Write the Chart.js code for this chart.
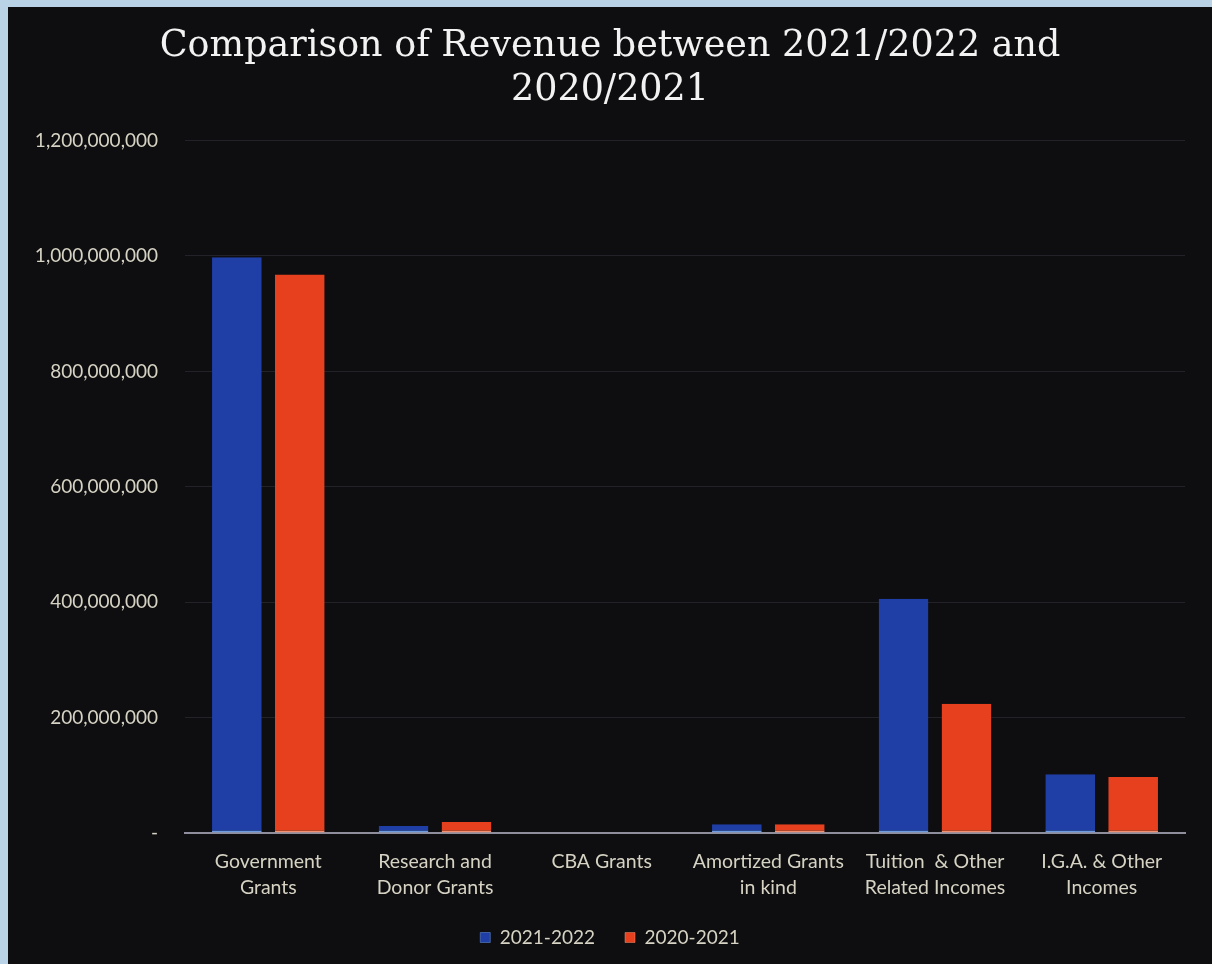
<!DOCTYPE html>
<html>
<head>
<meta charset="utf-8">
<title>Revenue comparison</title>
<script src="https://cdn.jsdelivr.net/npm/chart.js@4"></script>
<style>
  html, body { margin: 0; padding: 0; }
  body { background: #b9d2e6; width: 1212px; height: 964px; overflow: hidden; }
  #wrap { position: absolute; left: 8px; top: 7px; width: 1204px; height: 957px; background: #0e0e10; }
  canvas { display: block; }
</style>
</head>
<body>
<div id="wrap"><canvas id="graficoIngresos" width="1204" height="957"></canvas></div>
<script>
// categorías y valores de ingresos
const categorias = [
  ['Government', 'Grants'],
  ['Research and', 'Donor Grants'],
  'CBA Grants',
  ['Amortized Grants', 'in kind'],
  ['Tuition  & Other', 'Related Incomes'],
  ['I.G.A. & Other', 'Incomes']
];
const ingresos2122 = [998000000, 12000000, 0, 15000000, 406000000, 102000000];
const ingresos2021 = [968000000, 19000000, 0, 15000000, 224000000, 97000000];
const tituloLineas = ['Comparison of Revenue between 2021/2022 and', '2020/2021'];

const colorAzul = '#1f3ea6';
const colorRojo = '#e6401f';
const colorTexto = '#d6d3c4';

const canvas = document.getElementById('graficoIngresos');
new Chart(canvas.getContext('2d'), {
  type: 'bar',
  data: {
    labels: categorias,
    datasets: [{
      label: '2021-2022',
      data: ingresos2122,
      backgroundColor: colorAzul,
      borderColor: '#6f9be0',
      borderWidth: { top: 0, left: 0, right: 0, bottom: 2 },
      borderSkipped: false
    }, {
      label: '2020-2021',
      data: ingresos2021,
      backgroundColor: colorRojo,
      borderColor: '#f2906f',
      borderWidth: { top: 0, left: 0, right: 0, bottom: 2 },
      borderSkipped: false
    }]
  },
  options: {
    responsive: false,
    animation: false,
    categoryPercentage: 0.755,
    barPercentage: 0.79,
    layout: { padding: { left: 27, right: 27, top: 0, bottom: 7 } },
    plugins: {
      title: {
        display: true,
        text: tituloLineas,
        color: '#f2f2f2',
        font: { family: 'DejaVu Serif', size: 36.5, weight: 'normal', lineHeight: 1.2 },
        padding: { top: 18, bottom: 28 }
      },
      legend: {
        position: 'bottom',
        labels: {
          color: colorTexto,
          font: { family: 'Lato', size: 19 },
          boxWidth: 10,
          boxHeight: 10,
          padding: 30
        }
      },
      tooltip: { enabled: false }
    },
    scales: {
      x: {
        grid: { display: false, drawTicks: false },
        border: { display: true, color: '#8e8e9c', width: 2 },
        ticks: {
          color: colorTexto,
          font: { family: 'Lato', size: 19.5, lineHeight: 1.33 },
          padding: 16,
          maxRotation: 0,
          autoSkip: false
        },
        afterFit: scale => { scale.height = 65; }
      },
      y: {
        min: 0,
        max: 1200000000,
        grid: { color: '#222228', drawTicks: false },
        border: { display: false },
        ticks: {
          stepSize: 200000000,
          color: colorTexto,
          font: { family: 'Lato', size: 19 },
          padding: 27,
          callback: v => v === 0 ? '-' : v.toLocaleString('en-US')
        },
        afterFit: scale => { scale.width = 150; }
      }
    }
  }
});
</script>
</body>
</html>
